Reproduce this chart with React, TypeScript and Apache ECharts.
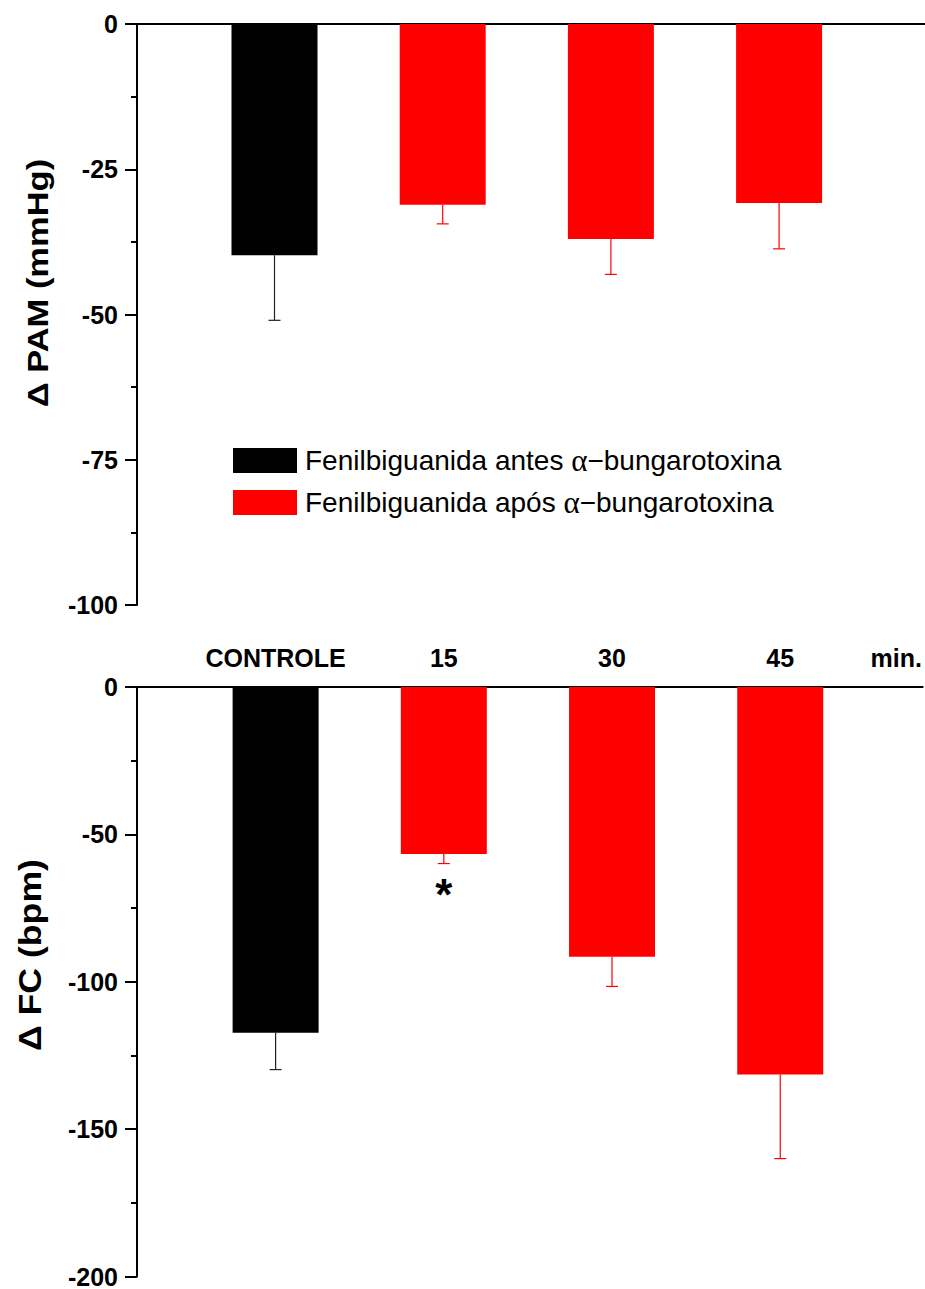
import React, { useEffect, useRef } from "react";
import * as echarts from "echarts";

// ---- data ----
const categories = ["CONTROLE", "15", "30", "45"];
const unitLabel = "min.";
const seriesNames = [
  "Fenilbiguanida antes α−bungarotoxina",
  "Fenilbiguanida após α−bungarotoxina",
];
const pamMean = [-39.8, -31.1, -37.0, -30.8];
const pamSem = [11.2, 3.3, 6.1, 7.9];
const fcMean = [-117.3, -56.7, -91.5, -131.5];
const fcSem = [12.5, 3.2, 10.1, 28.5];
const fcSig = ["", "*", "", ""];
const pamTicks = { min: -100, max: 0, interval: 25 };
const fcTicks = { min: -200, max: 0, interval: 50 };
const pamTitle = "Δ PAM (mmHg)";
const fcTitle = "Δ FC (bpm)";

const FONT = 'Arial, "Liberation Sans", Helvetica, sans-serif';
const BLACK = "#000000";
const RED = "#ff0000";

function makeRender(errColor: string) {
  return (params: any, api: any) => {
    const x = api.value(0);
    const v = api.value(1);
    const sem = api.value(2);
    const sigIdx = api.value(3);
    const base = api.coord([x, 0]);
    const end = api.coord([x, v]);
    const err = api.coord([x, v - sem]);
    const half = 43;
    const color = api.visual("color");
    const children: any[] = [
      {
        type: "line",
        shape: { x1: end[0], y1: end[1], x2: err[0], y2: err[1] },
        style: { stroke: errColor, lineWidth: 1.2 },
      },
      {
        type: "line",
        shape: { x1: err[0] - 6, y1: err[1], x2: err[0] + 6, y2: err[1] },
        style: { stroke: errColor, lineWidth: 1.2 },
      },
      {
        type: "rect",
        shape: { x: base[0] - half, y: base[1], width: half * 2, height: end[1] - base[1] },
        style: { fill: color },
      },
    ];
    const sig = sigIdx >= 0 ? fcSig[sigIdx] : "";
    if (sig) {
      children.push({
        type: "text",
        x: err[0],
        y: err[1] + 9,
        style: {
          text: sig,
          fontSize: 44,
          fontWeight: "bold",
          fontFamily: FONT,
          fill: BLACK,
          align: "center",
          verticalAlign: "top",
        },
      });
    }
    return { type: "group", children };
  };
}

function buildData(means: number[], sems: number[], idxs: number[], withSig: boolean) {
  return idxs.map((i) => [i + 1, means[i], sems[i], withSig ? i : -1]);
}

export default function App() {
  const ref = useRef<HTMLDivElement>(null);
  useEffect(() => {
    if (!ref.current) return;
    const chart = echarts.init(ref.current, null, { renderer: "svg" });

    const yAxisCommon = (t: { min: number; max: number; interval: number }, gi: number) => ({
      type: "value",
      gridIndex: gi,
      min: t.min,
      max: t.max,
      interval: t.interval,
      axisLine: { show: true, lineStyle: { color: BLACK, width: 2 } },
      axisTick: { show: true, inside: false, length: 12, lineStyle: { color: BLACK, width: 2 } },
      minorTick: { show: true, splitNumber: 2, length: 6, lineStyle: { color: BLACK, width: 2 } },
      splitLine: { show: false },
      minorSplitLine: { show: false },
      axisLabel: {
        margin: 19,
        color: BLACK,
        fontSize: 25,
        fontWeight: "bold",
        fontFamily: FONT,
      },
    });

    const labelValues = [1, 2, 3, 4, 4.69];

    const option: any = {
      animation: false,
      backgroundColor: "#ffffff",
      grid: [
        { left: 137, top: 24, width: 788, height: 581 },
        { left: 137, top: 687, width: 788, height: 590 },
      ],
      xAxis: [
        {
          type: "value",
          gridIndex: 0,
          position: "top",
          min: 0.1825,
          max: 4.8675,
          axisLine: { show: true, onZero: false, lineStyle: { color: BLACK, width: 2 } },
          axisTick: { show: false },
          axisLabel: { show: false },
          splitLine: { show: false },
        },
        {
          type: "value",
          gridIndex: 1,
          position: "top",
          min: 0.176,
          max: 4.847,
          axisLine: { show: true, onZero: false, lineStyle: { color: BLACK, width: 2 } },
          axisTick: { show: false },
          splitLine: { show: false },
          axisLabel: {
            show: true,
            customValues: labelValues,
            margin: 17,
            color: BLACK,
            fontSize: 25,
            fontWeight: "bold",
            fontFamily: FONT,
            formatter: (v: number) => (v > 4.5 ? unitLabel : categories[Math.round(v) - 1]),
          },
        },
      ],
      yAxis: [yAxisCommon(pamTicks, 0), yAxisCommon(fcTicks, 1)],
      legend: {
        show: true,
        orient: "vertical",
        left: 233,
        top: 445,
        padding: 0,
        itemGap: 11,
        itemWidth: 64,
        itemHeight: 25,
        icon: "rect",
        selectedMode: false,
        data: seriesNames,
        formatter: (name: string) => {
          const [a, b] = name.split("α");
          return "{t|" + a + "}{g|α}{t|" + b + "}";
        },
        textStyle: {
          color: BLACK,
          fontSize: 28,
          lineHeight: 25,
          fontFamily: FONT,
          padding: [0, 0, 0, 3],
          rich: {
            t: { fontSize: 28, lineHeight: 25, fontFamily: FONT, color: BLACK },
            g: {
              fontSize: 31,
              lineHeight: 25,
              fontFamily: '"Liberation Serif", "Times New Roman", serif',
              color: BLACK,
            },
          },
        },
      },
      series: [
        {
          type: "custom",
          name: seriesNames[0],
          xAxisIndex: 0,
          yAxisIndex: 0,
          itemStyle: { color: BLACK },
          renderItem: makeRender("#222222"),
          data: buildData(pamMean, pamSem, [0], false),
        },
        {
          type: "custom",
          name: seriesNames[1],
          xAxisIndex: 0,
          yAxisIndex: 0,
          itemStyle: { color: RED },
          renderItem: makeRender(RED),
          data: buildData(pamMean, pamSem, [1, 2, 3], false),
        },
        {
          type: "custom",
          name: seriesNames[0],
          xAxisIndex: 1,
          yAxisIndex: 1,
          itemStyle: { color: BLACK },
          renderItem: makeRender("#222222"),
          data: buildData(fcMean, fcSem, [0], true),
        },
        {
          type: "custom",
          name: seriesNames[1],
          xAxisIndex: 1,
          yAxisIndex: 1,
          itemStyle: { color: RED },
          renderItem: makeRender(RED),
          data: buildData(fcMean, fcSem, [1, 2, 3], true),
        },
      ],
      graphic: [
        {
          type: "text",
          x: 38,
          y: 283,
          rotation: Math.PI / 2,
          scaleX: 1.15,
          style: {
            text: pamTitle,
            fontSize: 30,
            fontWeight: "bold",
            fontFamily: FONT,
            fill: BLACK,
            align: "center",
            verticalAlign: "middle",
          },
        },
        {
          type: "text",
          x: 30,
          y: 955,
          rotation: Math.PI / 2,
          scaleX: 1.15,
          style: {
            text: fcTitle,
            fontSize: 31,
            fontWeight: "bold",
            fontFamily: FONT,
            fill: BLACK,
            align: "center",
            verticalAlign: "middle",
          },
        },
      ],
    };
    chart.setOption(option);
    return () => chart.dispose();
  }, []);

  return (
    <div
      ref={ref}
      style={{ position: "absolute", left: 0, top: 0, width: 925, height: 1289, background: "#fff" }}
    />
  );
}
